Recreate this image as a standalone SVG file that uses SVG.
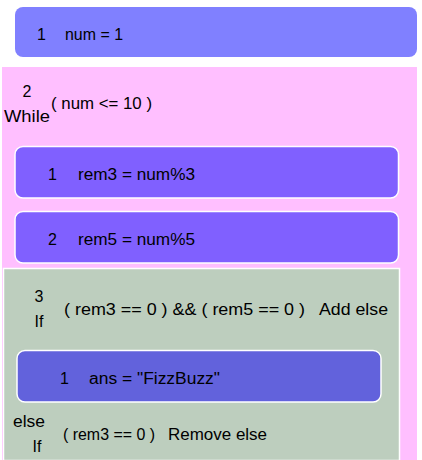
<svg xmlns="http://www.w3.org/2000/svg" width="422" height="460" viewBox="0 0 422 460">
  <style>
    text { font-family: "Comic Sans MS", "Liberation Sans", sans-serif; font-size: 16px; fill: #000; }
    .stmt { stroke: #ffffff; stroke-width: 1.5; }
    .mid { text-anchor: middle; }
  </style>
  <rect width="422" height="460" fill="#ffffff"/>

  <!-- statement 1: num = 1 -->
  <g id="stmt-num">
    <rect x="15" y="7" width="402" height="50" rx="8" fill="#8080ff"/>
    <text x="37" y="40">1</text>
    <text x="65" y="40" textLength="58" lengthAdjust="spacingAndGlyphs">num = 1</text>
  </g>

  <!-- statement 2: while loop -->
  <g id="while-loop">
    <rect x="2" y="67" width="415" height="393" fill="#ffbfff"/>
    <text class="mid" x="27" y="97">2</text>
    <text x="4" y="122" textLength="46" lengthAdjust="spacingAndGlyphs">While</text>
    <text x="51" y="109" textLength="101" lengthAdjust="spacingAndGlyphs">( num &lt;= 10 )</text>
  </g>

  <g id="stmt-rem3">
    <rect class="stmt" x="15" y="146.5" width="383.5" height="51.5" rx="8" fill="#8060ff"/>
    <text x="48" y="180">1</text>
    <text x="78" y="180" textLength="117" lengthAdjust="spacingAndGlyphs">rem3 = num%3</text>
  </g>

  <g id="stmt-rem5">
    <rect class="stmt" x="15" y="211.5" width="383.5" height="51.5" rx="8" fill="#8060ff"/>
    <text x="48" y="245">2</text>
    <text x="78" y="245" textLength="117" lengthAdjust="spacingAndGlyphs">rem5 = num%5</text>
  </g>

  <!-- statement 3: if / else if -->
  <g id="if-block">
    <rect x="3.5" y="268.5" width="396" height="192" fill="#bdcebe" stroke="#ffffff" stroke-width="1.5"/>
    <text class="mid" x="39" y="302">3</text>
    <text class="mid" x="39" y="327">If</text>
    <text x="64" y="315" textLength="241" lengthAdjust="spacingAndGlyphs">( rem3 == 0 ) &amp;&amp; ( rem5 == 0 )</text>
    <text x="319" y="315" textLength="69" lengthAdjust="spacingAndGlyphs">Add else</text>
  </g>

  <g id="stmt-ans">
    <rect class="stmt" x="17" y="350.5" width="364" height="51.5" rx="8" fill="#6262dc"/>
    <text x="60" y="384">1</text>
    <text x="89" y="384" textLength="131" lengthAdjust="spacingAndGlyphs">ans = "FizzBuzz"</text>
  </g>

  <g id="else-if">
    <text x="13" y="427" textLength="32" lengthAdjust="spacingAndGlyphs">else</text>
    <text class="mid" x="37" y="452">If</text>
    <text x="63" y="440" textLength="92" lengthAdjust="spacingAndGlyphs">( rem3 == 0 )</text>
    <text x="168" y="440" textLength="99" lengthAdjust="spacingAndGlyphs">Remove else</text>
  </g>

  <!-- no connectors in this layout -->
  <g id="connectors"/>
</svg>
